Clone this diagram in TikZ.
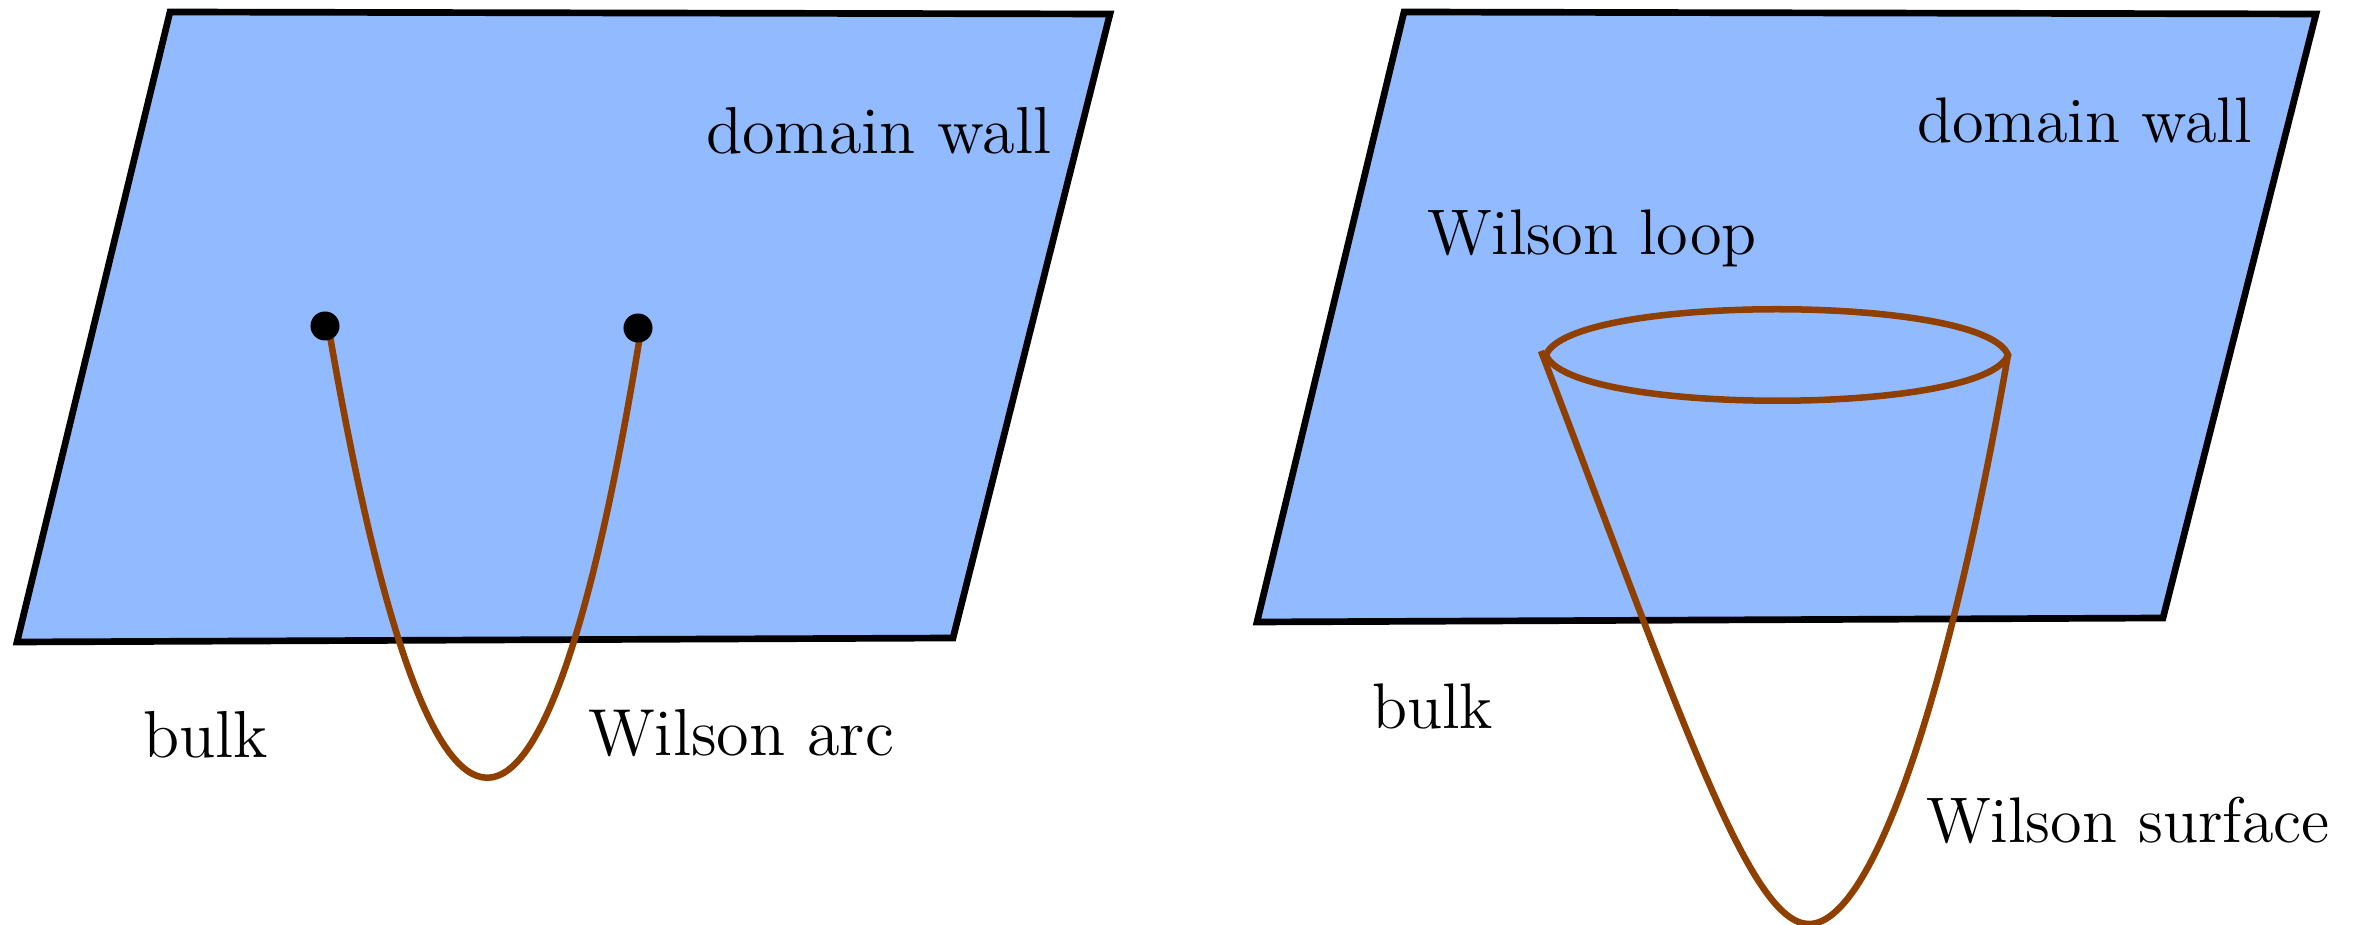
\documentclass[tikz,border=0pt]{standalone}
\definecolor{wallblue}{HTML}{92BAFF}
\definecolor{wilsonbrown}{HTML}{8F3F00}

\begin{document}
\begin{tikzpicture}[
  x=0.01cm, y=-0.01cm,
  wall/.style={draw=black, fill=wallblue, line width=1.9pt, line join=miter},
  wilson/.style={draw=wilsonbrown, line width=1.85pt},
  endpt/.style={circle, fill=black, inner sep=0pt, minimum size=0.29cm},
  lbl/.style={anchor=base west, inner sep=0pt, font=\fontsize{12}{14}\selectfont, scale=1.575},
  lblr/.style={anchor=base west, inner sep=0pt, font=\fontsize{12}{14}\selectfont, scale=1.527}
]
\useasboundingbox (0,0) rectangle (2365,925);

% left picture
\draw[wall] (170,12) -- (1110,14) -- (953,638) -- (17,642) -- cycle;
\coordinate (as) at (330,336);
\coordinate (bs) at (640,336);
\draw[wilson] (as) .. controls (432,925) and (544,925) .. (bs);
\node[endpt] (a) at (325,326) {};
\node[endpt] (b) at (638,328) {};
\node[lbl] (dw1) at (705,154) {domain wall};
\node[lbl] (bulk1) at (142,758) {bulk};
\node[lbl] (arc) at (587,756) {Wilson arc};

% right picture
\draw[wall] (1404,12) -- (2316,14) -- (2163,618) -- (1257,622) -- cycle;
\coordinate (ll) at (1546,355);
\coordinate (lr) at (2008,355);
\coordinate (sl) at (1541,351);
\coordinate (sb) at (1809,924);
\draw[wilson] (ll) .. controls (1570,294) and (1984,294) .. (lr)
  .. controls (1984,416) and (1570,416) .. (ll);
\draw[wilson] (sl) .. controls (1682,720) and (1750,924) .. (sb)
  .. controls (1872,924) and (1948,700) .. (lr);
\node[lblr] (dw2) at (1916,143) {domain wall};
\node[lblr] (loop) at (1426,255) {Wilson loop};
\node[lblr] (bulk2) at (1371,729) {bulk};
\node[lblr] (surf) at (1925,843) {Wilson surface};

\end{tikzpicture}
\end{document}
